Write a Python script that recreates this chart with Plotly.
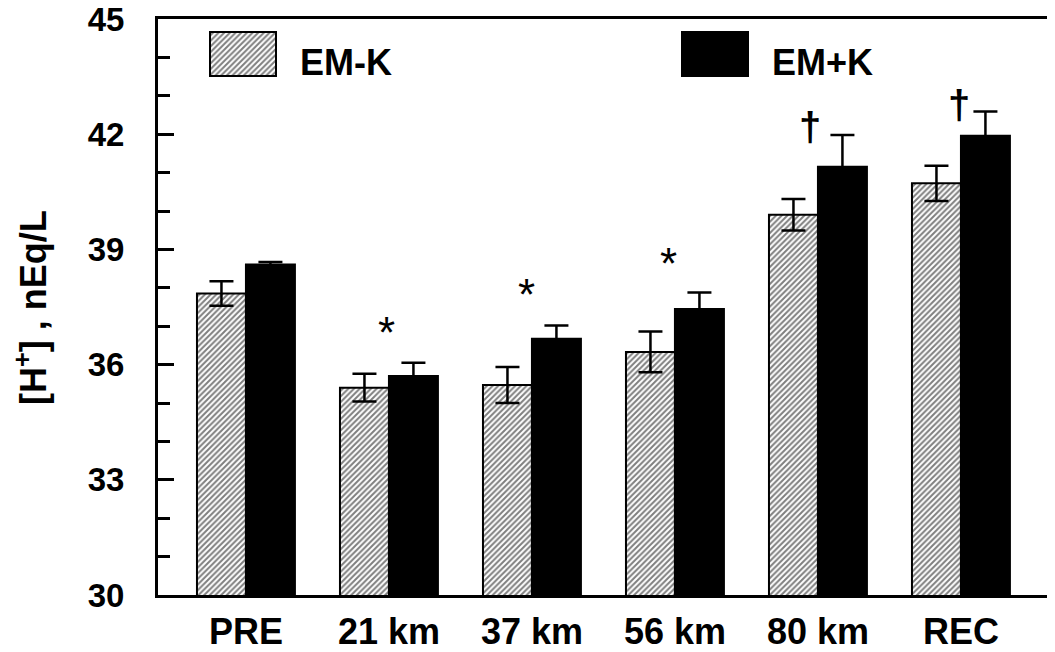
import plotly.graph_objects as go

categories = ["PRE", "21 km", "37 km", "56 km", "80 km", "REC"]
em_minus_k = [37.85, 35.40, 35.47, 36.33, 39.90, 40.72]
em_minus_k_err = [0.32, 0.36, 0.47, 0.53, 0.41, 0.46]
em_plus_k = [38.61, 35.70, 36.67, 37.45, 41.15, 41.96]
em_plus_k_err = [0.06, 0.35, 0.35, 0.43, 0.83, 0.63]

sig_cats = ["21 km", "37 km", "56 km", "80 km", "REC"]
sig_marks = ["*", "*", "*", "†", "†"]
sig_y = [36.98, 37.99, 38.78, 42.24, 42.81]
sig_dx = [-2, -5, -6, -8, -2]

y_ticks = [30, 33, 36, 39, 42, 45]

FONT = "Liberation Sans, Arial, sans-serif"
W, H = 1055, 652
OFF = 8  # page body margin offset
L, T = 158 - OFF, 19 - OFF
B = H - (595 - OFF)
R = 0
pw, ph = W - L - R, H - T - B

def px_x(x):
    return (x - OFF - L) / pw

def px_y(y):
    return (H - B - (y - OFF)) / ph

HATCH = dict(shape="/", fgcolor="black", bgcolor="white", size=4, solidity=0.5)

fig = go.Figure()
fig.add_trace(go.Bar(
    x=categories, y=em_minus_k, name="EM-K",
    marker=dict(color="white", line=dict(color="black", width=2), pattern=HATCH),
    error_y=dict(type="data", array=em_minus_k_err, color="black", thickness=2.5, width=12),
    showlegend=False,
))
fig.add_trace(go.Bar(
    x=categories, y=em_plus_k, name="EM+K",
    marker=dict(color="black", line=dict(color="black", width=2)),
    error_y=dict(type="data", array=em_plus_k_err, color="black", thickness=2.5, width=12),
    showlegend=False,
))

# legend key boxes on helper axes
fig.add_trace(go.Bar(x=[0], y=[1], width=[1], xaxis="x2", yaxis="y2", showlegend=False,
                     marker=dict(color="white", line=dict(color="black", width=2), pattern=HATCH),
                     hoverinfo="skip"))
fig.add_trace(go.Bar(x=[0], y=[1], width=[1], xaxis="x3", yaxis="y3", showlegend=False,
                     marker=dict(color="black", line=dict(color="black", width=2)),
                     hoverinfo="skip"))

annotations = []
for c, m, yv, dx in zip(sig_cats, sig_marks, sig_y, sig_dx):
    if m == "*":
        annotations.append(dict(x=c, y=yv, text=m, showarrow=False, xshift=dx, yshift=-6,
                                font=dict(family=FONT, size=44, color="black")))
    else:
        annotations.append(dict(x=c, y=yv, text=m, showarrow=False, xshift=dx, yshift=-2,
                                font=dict(family=FONT, size=40, color="black", weight="bold")))

annotations.append(dict(xref="paper", yref="paper", x=px_x(298), y=px_y(63), text="EM-K",
                        showarrow=False, xanchor="left", yanchor="middle",
                        font=dict(family=FONT, size=36, color="black", weight="bold")))
annotations.append(dict(xref="paper", yref="paper", x=px_x(770), y=px_y(63), text="EM+K",
                        showarrow=False, xanchor="left", yanchor="middle",
                        font=dict(family=FONT, size=36, color="black", weight="bold")))
annotations.append(dict(xref="paper", yref="paper", x=px_x(31), y=px_y(308),
                        text="[H<sup>+</sup>] , nEq/L", textangle=-90, showarrow=False,
                        xanchor="center", yanchor="middle",
                        font=dict(family=FONT, size=36, color="black", weight="bold")))

fig.update_layout(
    width=W, height=H,
    margin=dict(l=L, r=R, t=T, b=B, autoexpand=False),
    paper_bgcolor="white", plot_bgcolor="white",
    barmode="group", bargap=0.315, bargroupgap=0,
    xaxis=dict(range=[-0.615, -0.615 + pw / 143.0], showline=True, linecolor="black", linewidth=3,
               mirror=True, ticks="", showgrid=False, zeroline=False, automargin=False,
               tickfont=dict(family=FONT, size=36, color="black", weight="bold"),
               ticklabelstandoff=3, ticklabeloverflow="allow"),
    yaxis=dict(range=[30, 45], tickvals=y_ticks, showline=True, linecolor="black",
               linewidth=3, ticks="inside", ticklen=16, tickwidth=3, tickcolor="black",
               minor=dict(dtick=1, ticks="inside", ticklen=12, tickwidth=3, tickcolor="black"),
               showgrid=False, zeroline=False, mirror=False, automargin=False,
               tickfont=dict(family=FONT, size=33, color="black", weight="bold"),
               ticklabelstandoff=24, ticklabeloverflow="allow"),
    xaxis2=dict(domain=[px_x(209), px_x(277)], range=[-0.515, 0.515], visible=False, anchor="y2"),
    yaxis2=dict(domain=[px_y(77), px_y(31)], range=[-0.02, 1.02], visible=False, anchor="x2"),
    xaxis3=dict(domain=[px_x(681), px_x(749)], range=[-0.515, 0.515], visible=False, anchor="y3"),
    yaxis3=dict(domain=[px_y(77), px_y(31)], range=[-0.02, 1.02], visible=False, anchor="x3"),
    annotations=annotations,
)

fig.write_html("out.html")
